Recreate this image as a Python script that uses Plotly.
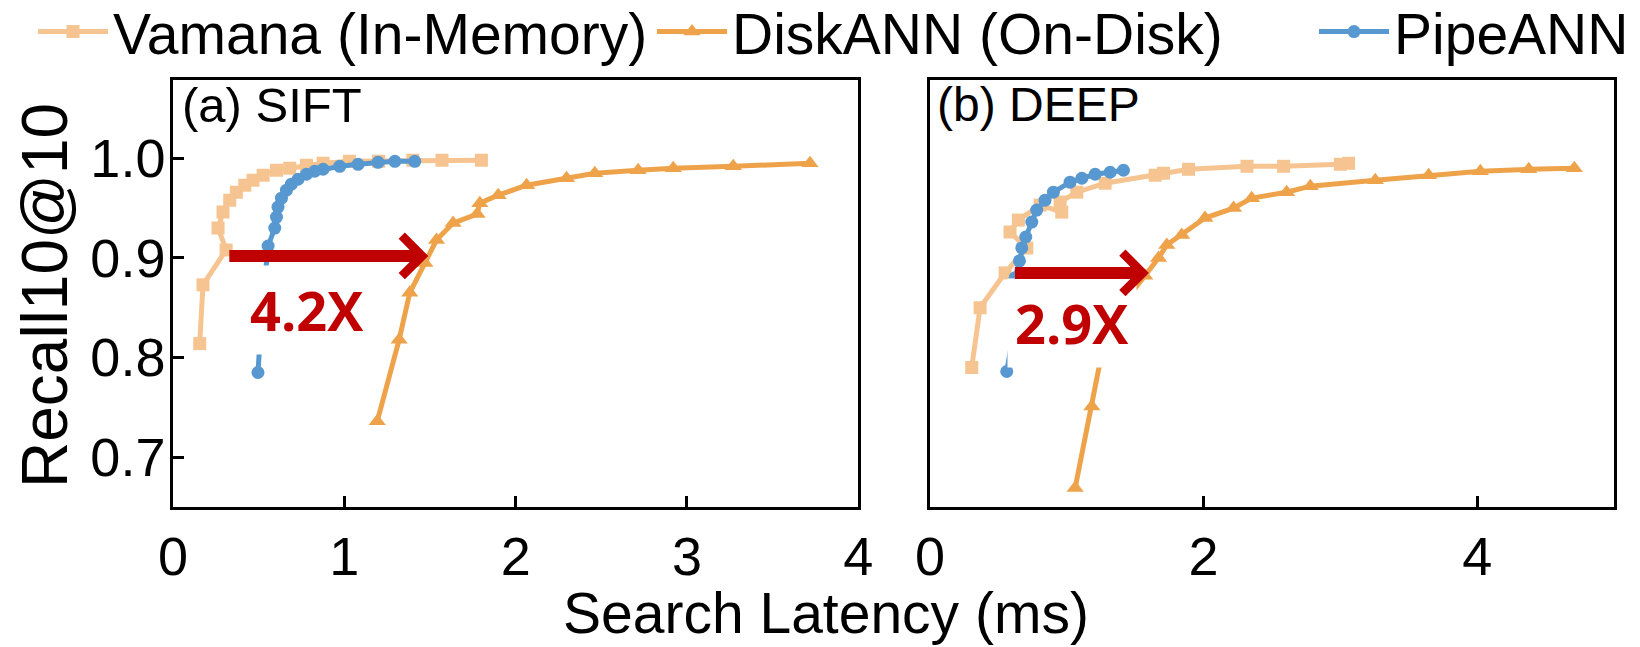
import plotly.graph_objects as go

# ---------------- data ----------------
vamana_sift_x = [0.156, 0.175, 0.31, 0.263, 0.292, 0.331, 0.370, 0.419, 0.467, 0.526, 0.604, 0.681, 0.779, 0.876, 1.03, 1.20, 1.40, 1.57, 1.80]
vamana_sift_y = [0.814, 0.873, 0.908, 0.930, 0.946, 0.958, 0.966, 0.973, 0.978, 0.983, 0.988, 0.990, 0.993, 0.995, 0.997, 0.997, 0.998, 0.998, 0.998]

diskann_sift_x = [1.192, 1.320, 1.382, 1.470, 1.538, 1.635, 1.775, 1.791, 1.898, 2.064, 2.297, 2.462, 2.715, 2.920, 3.270, 3.718]
diskann_sift_y = [0.736, 0.818, 0.865, 0.895, 0.918, 0.935, 0.944, 0.955, 0.963, 0.973, 0.980, 0.985, 0.988, 0.990, 0.992, 0.995]

pipeann_sift_x = [0.496, 0.52, 0.555, 0.594, 0.604, 0.613, 0.633, 0.662, 0.691, 0.730, 0.779, 0.827, 0.876, 0.973, 1.080, 1.197, 1.295, 1.411]
pipeann_sift_y = [0.785, 0.85, 0.912, 0.930, 0.941, 0.951, 0.960, 0.968, 0.974, 0.979, 0.984, 0.987, 0.989, 0.992, 0.994, 0.996, 0.997, 0.997]

vamana_deep_x = [0.305, 0.366, 0.549, 0.708, 0.585, 0.646, 0.805, 0.963, 0.951, 1.073, 1.28, 1.646, 1.707, 1.89, 2.317, 2.585, 3.0, 3.06]
vamana_deep_y = [0.790, 0.850, 0.885, 0.910, 0.926, 0.938, 0.953, 0.946, 0.956, 0.966, 0.975, 0.983, 0.985, 0.989, 0.992, 0.992, 0.994, 0.995]

diskann_deep_x = [1.061, 1.183, 1.30, 1.57, 1.671, 1.731, 1.840, 2.01, 2.219, 2.351, 2.607, 2.78, 3.255, 3.645, 4.023, 4.377, 4.71]
diskann_deep_y = [0.669, 0.751, 0.835, 0.882, 0.900, 0.913, 0.923, 0.940, 0.950, 0.960, 0.966, 0.972, 0.978, 0.983, 0.987, 0.989, 0.990]

pipeann_deep_x = [0.561, 0.63, 0.622, 0.654, 0.671, 0.700, 0.744, 0.780, 0.841, 0.902, 1.024, 1.110, 1.207, 1.317, 1.414]
pipeann_deep_y = [0.786, 0.84, 0.880, 0.897, 0.910, 0.921, 0.936, 0.948, 0.958, 0.966, 0.976, 0.980, 0.984, 0.986, 0.988]

series_names = ["Vamana (In-Memory)", "DiskANN (On-Disk)", "PipeANN"]
panel_titles = ["(a) SIFT", "(b) DEEP"]
speedup_labels = ["4.2X", "2.9X"]
# arrows: (start_x, end_x, y) per panel
arrow_sift = [0.32, 1.49, 0.902]
arrow_deep = [0.61, 1.60, 0.885]
# speedup label positions (x, y) per panel
label_sift = [0.78, 0.848]
label_deep = [1.035, 0.835]

x_ticks_left = [0, 1, 2, 3, 4]
x_ticks_right = [0, 2, 4]
y_ticks = [0.7, 0.8, 0.9, 1.0]
y_ticktext = ["0.7", "0.8", "0.9", "1.0"]

# ---------------- styles ----------------
C_VAM = "#F6C490"
C_DISK = "#EEA34B"
C_PIPE = "#5898D0"
C_RED = "#C00000"
FONT = "Liberation Sans, Arial, sans-serif"
LW = 5

styles = [
    dict(color=C_VAM, symbol="square", size=13),
    dict(color=C_DISK, symbol="triangle-up", size=15),
    dict(color=C_PIPE, symbol="circle", size=13),
]
legends = ["legend", "legend2", "legend3"]

fig = go.Figure()

left_data = [(vamana_sift_x, vamana_sift_y), (diskann_sift_x, diskann_sift_y), (pipeann_sift_x, pipeann_sift_y)]
right_data = [(vamana_deep_x, vamana_deep_y), (diskann_deep_x, diskann_deep_y), (pipeann_deep_x, pipeann_deep_y)]

for i, (xs, ys) in enumerate(left_data):
    st = styles[i]
    fig.add_trace(go.Scatter(
        x=xs, y=ys, mode="lines+markers", name=series_names[i],
        line=dict(color=st["color"], width=LW),
        marker=dict(symbol=st["symbol"], size=st["size"], color=st["color"]),
        xaxis="x", yaxis="y", legend=legends[i], showlegend=True,
    ))
for i, (xs, ys) in enumerate(right_data):
    st = styles[i]
    fig.add_trace(go.Scatter(
        x=xs, y=ys, mode="lines+markers", name=series_names[i],
        line=dict(color=st["color"], width=LW),
        marker=dict(symbol=st["symbol"], size=st["size"], color=st["color"]),
        xaxis="x2", yaxis="y2", showlegend=False,
    ))

YR = [0.65, 1.0786]
# main axes carry labels with inside ticks; overlay axes add the outside half of each tick
ax_common = dict(showline=True, linewidth=2.5, linecolor="black", mirror=True,
                 showgrid=False, zeroline=False, ticks="inside", ticklen=11,
                 tickwidth=2.5, tickcolor="black",
                 tickfont=dict(family=FONT, size=54, color="black"))
outer_ticks = dict(ticks="outside", ticklen=11, tickwidth=2.5, tickcolor="black",
                   showticklabels=False, showgrid=False, zeroline=False, showline=False)

L, R, T, B = 173, 26, 80, 140
W, H = 1640, 647
PW = W - L - R
PH = H - T - B
def px2paper_x(p):
    return (p - L) / PW
def px2paper_y(p):
    return (H - B - p) / PH

left_dom = [0, px2paper_x(858.3)]
right_dom = [px2paper_x(930), 1]

fig.update_layout(
    width=W, height=H,
    margin=dict(l=L, r=R, t=T, b=B, autoexpand=False),
    plot_bgcolor="white", paper_bgcolor="white",
    font=dict(family=FONT, color="black"),
    xaxis=dict(domain=left_dom, range=[0, 4], tickvals=x_ticks_left, anchor="y", **ax_common),
    yaxis=dict(domain=[0, 1], range=YR, tickvals=y_ticks, ticktext=y_ticktext, anchor="x",
               ticklabelstandoff=-6, **ax_common),
    xaxis2=dict(domain=right_dom, range=[0, 5], tickvals=x_ticks_right, anchor="y2", **ax_common),
    yaxis2=dict(domain=[0, 1], range=YR, anchor="x2", showline=True, linewidth=2.5,
                linecolor="black", mirror=True, showgrid=False, zeroline=False,
                ticks="", showticklabels=False),
    xaxis3=dict(overlaying="x", anchor="y", range=[0, 4], tickvals=x_ticks_left, **outer_ticks),
    xaxis4=dict(overlaying="x2", anchor="y2", range=[0, 5], tickvals=x_ticks_right, **outer_ticks),
    yaxis3=dict(overlaying="y", anchor="x", range=YR, tickvals=y_ticks, side="left", **outer_ticks),
    showlegend=True,
)

IW = 70
leg_common = dict(orientation="h", xanchor="left", yanchor="middle", y=px2paper_y(32),
                  font=dict(family=FONT, size=57, color="black"),
                  bgcolor="rgba(0,0,0,0)", itemwidth=IW)
fig.update_layout(
    legend=dict(x=px2paper_x(113 - IW - 10), **leg_common),
    legend2=dict(x=px2paper_x(732 - IW - 10), **leg_common),
    legend3=dict(x=px2paper_x(1394 - IW - 10), **leg_common),
)

annotations = []
# speedup labels (white boxes masking lines)
for (lx, ly), txt, xr, yr in [(label_sift, speedup_labels[0], "x", "y"), (label_deep, speedup_labels[1], "x2", "y2")]:
    annotations.append(dict(x=lx, y=ly, xref=xr, yref=yr, text=txt, showarrow=False,
                            font=dict(family="Open Sans, sans-serif", size=54, color=C_RED, weight="bold"),
                            bgcolor="white", borderpad=7, xanchor="center", yanchor="middle"))
# arrows
for (ax0, ax1, ay), xr, yr in [(arrow_sift, "x", "y"), (arrow_deep, "x2", "y2")]:
    annotations.append(dict(x=ax1, y=ay, ax=ax0, ay=ay, xref=xr, yref=yr, axref=xr, ayref=yr,
                            text="", showarrow=True, arrowhead=4, arrowsize=0.65, arrowwidth=12,
                            arrowcolor=C_RED, standoff=0, startstandoff=0))
# panel titles
annotations.append(dict(x=px2paper_x(180), y=px2paper_y(105), xref="paper", yref="paper",
                        text=panel_titles[0], showarrow=False, xanchor="left", yanchor="middle",
                        font=dict(family=FONT, size=49, color="black")))
annotations.append(dict(x=px2paper_x(935), y=px2paper_y(105), xref="paper", yref="paper",
                        text=panel_titles[1], showarrow=False, xanchor="left", yanchor="middle",
                        font=dict(family=FONT, size=48, color="black")))
# axis titles
annotations.append(dict(x=px2paper_x(826), y=px2paper_y(613), xref="paper", yref="paper",
                        text="Search Latency (ms)", showarrow=False, xanchor="center", yanchor="middle",
                        font=dict(family=FONT, size=57, color="black")))
annotations.append(dict(x=px2paper_x(45), y=px2paper_y(296), xref="paper", yref="paper",
                        text="Recall10@10", showarrow=False, xanchor="center", yanchor="middle",
                        textangle=-90, font=dict(family=FONT, size=64, color="black")))
fig.update_layout(annotations=annotations)

fig.write_html("out.html", config={"displayModeBar": False},
               post_script="document.body.style.margin='0px';")
